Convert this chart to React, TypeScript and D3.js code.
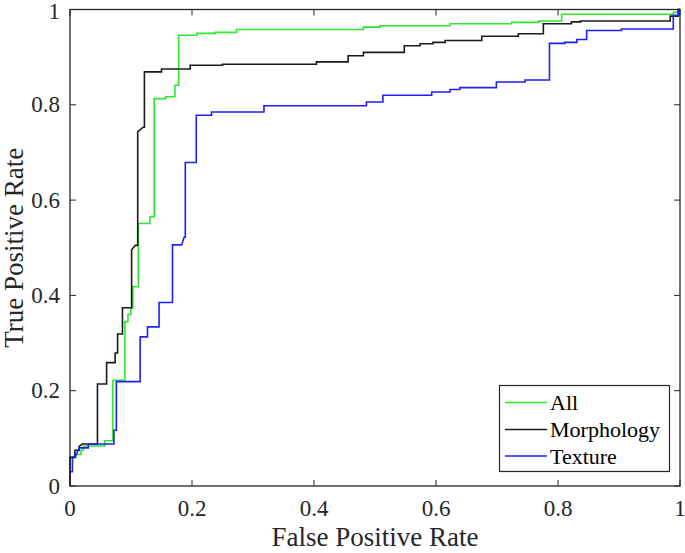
import React from "react";
import * as d3 from "d3";

const xTicks = [0, 0.2, 0.4, 0.6, 0.8, 1];
const yTicks = [0, 0.2, 0.4, 0.6, 0.8, 1];
const xTickLabels = ["0", "0.2", "0.4", "0.6", "0.8", "1"];
const yTickLabels = ["0", "0.2", "0.4", "0.6", "0.8", "1"];
const seriesNames = ["All", "Morphology", "Texture"];
const seriesColors = ["#2ee82e", "#1a1a1a", "#1f1fff"];

// ROC staircase vertices: [FPR, TPR]
const allCurve: [number, number][] = [
  [0, 0], [0, 0.06], [0.01, 0.06], [0.01, 0.066], [0.018, 0.066], [0.018, 0.075],
  [0.022, 0.075], [0.022, 0.084], [0.057, 0.084], [0.057, 0.095], [0.07, 0.095],
  [0.07, 0.222], [0.09, 0.222], [0.09, 0.345], [0.095, 0.345], [0.095, 0.36],
  [0.1, 0.36], [0.1, 0.373], [0.103, 0.373], [0.103, 0.418], [0.112, 0.418],
  [0.112, 0.551], [0.131, 0.551], [0.131, 0.565], [0.138, 0.565], [0.138, 0.813],
  [0.157, 0.813], [0.157, 0.817], [0.172, 0.817], [0.172, 0.841], [0.178, 0.841],
  [0.178, 0.946], [0.208, 0.946], [0.208, 0.95], [0.238, 0.95], [0.238, 0.952],
  [0.273, 0.952], [0.273, 0.958], [0.481, 0.958], [0.481, 0.963], [0.508, 0.963],
  [0.508, 0.966], [0.623, 0.966], [0.623, 0.97], [0.724, 0.97], [0.724, 0.973],
  [0.768, 0.973], [0.768, 0.976], [0.806, 0.976], [0.806, 0.99], [0.989, 0.99],
  [0.989, 0.994], [0.997, 0.994], [0.997, 1], [1, 1],
];

const morphologyCurve: [number, number][] = [
  [0, 0], [0, 0.06], [0.008, 0.06], [0.008, 0.075], [0.015, 0.075], [0.015, 0.083],
  [0.02, 0.088], [0.045, 0.088], [0.045, 0.214], [0.06, 0.214], [0.06, 0.259],
  [0.074, 0.259], [0.074, 0.279], [0.078, 0.279], [0.078, 0.319], [0.086, 0.319],
  [0.086, 0.374], [0.101, 0.374], [0.101, 0.495], [0.107, 0.505], [0.111, 0.505],
  [0.111, 0.743], [0.12, 0.753], [0.122, 0.753], [0.122, 0.869], [0.15, 0.869],
  [0.15, 0.875], [0.197, 0.875], [0.197, 0.883], [0.25, 0.883], [0.25, 0.885],
  [0.404, 0.885], [0.404, 0.89], [0.456, 0.89], [0.456, 0.903], [0.481, 0.903],
  [0.481, 0.91], [0.548, 0.91], [0.548, 0.924], [0.574, 0.924], [0.574, 0.928],
  [0.595, 0.928], [0.595, 0.931], [0.615, 0.931], [0.615, 0.935], [0.675, 0.935],
  [0.675, 0.944], [0.735, 0.944], [0.735, 0.949], [0.776, 0.949], [0.776, 0.97],
  [0.822, 0.97], [0.822, 0.974], [0.837, 0.974], [0.837, 0.976], [0.984, 0.976],
  [0.984, 0.986], [0.997, 0.986], [0.997, 1], [1, 1],
];

const textureCurve: [number, number][] = [
  [0, 0], [0, 0.03], [0.004, 0.03], [0.004, 0.06], [0.01, 0.065], [0.015, 0.08],
  [0.03, 0.08], [0.03, 0.088], [0.072, 0.088], [0.072, 0.117], [0.076, 0.117],
  [0.076, 0.219], [0.115, 0.219], [0.115, 0.313], [0.127, 0.313], [0.127, 0.334],
  [0.146, 0.334], [0.146, 0.385], [0.168, 0.385], [0.168, 0.506], [0.183, 0.506],
  [0.187, 0.522], [0.189, 0.522], [0.189, 0.679], [0.207, 0.679], [0.207, 0.778],
  [0.232, 0.778], [0.232, 0.785], [0.318, 0.785], [0.318, 0.798], [0.486, 0.798],
  [0.486, 0.806], [0.513, 0.806], [0.513, 0.82], [0.593, 0.82], [0.593, 0.827],
  [0.623, 0.827], [0.623, 0.832], [0.639, 0.832], [0.639, 0.836], [0.699, 0.836],
  [0.699, 0.848], [0.746, 0.848], [0.746, 0.852], [0.786, 0.852], [0.786, 0.929],
  [0.811, 0.929], [0.811, 0.931], [0.831, 0.931], [0.831, 0.937], [0.847, 0.937],
  [0.847, 0.956], [0.904, 0.956], [0.904, 0.959], [0.989, 0.959], [0.989, 0.988],
  [0.998, 0.988], [0.998, 1], [1, 1],
];

const curves = [allCurve, morphologyCurve, textureCurve];

const W = 685;
const H = 553;
const L = 70, R = 680, T = 9.5, B = 486;
const FONT = "'Liberation Serif', 'Times New Roman', serif";
const AX = "#262626";

export default function App() {
  const x = d3.scaleLinear().domain([0, 1]).range([L, R]);
  const y = d3.scaleLinear().domain([0, 1]).range([B, T]);
  const line = d3
    .line<[number, number]>()
    .x((d) => x(d[0]))
    .y((d) => y(d[1]));
  const tickLen = 6;
  const legX = 499.5, legY = 385.5, legW = 170, legH = 86;
  const rowY = [402.5, 429.5, 456];

  return (
    <svg
      width={W}
      height={H}
      style={{ position: "absolute", left: 0, top: 0, background: "#fff" }}
      fontFamily={FONT}
    >
      <rect x={0} y={0} width={W} height={H} fill="#fff" />
      <defs>
        <clipPath id="plotclip">
          <rect x={L - 2} y={T - 2} width={R - L + 4} height={B - T + 4} />
        </clipPath>
      </defs>
      {xTicks.map((t, i) => (
        <g key={"xt" + i}>
          <line x1={x(t)} x2={x(t)} y1={B} y2={B - tickLen} stroke={AX} strokeWidth={1} />
          <line x1={x(t)} x2={x(t)} y1={T} y2={T + tickLen} stroke={AX} strokeWidth={1} />
          <text x={x(t)} y={516} fontSize={23} textAnchor="middle" fill={AX}>
            {xTickLabels[i]}
          </text>
        </g>
      ))}
      {yTicks.map((t, i) => (
        <g key={"yt" + i}>
          <line x1={L} x2={L + tickLen} y1={y(t)} y2={y(t)} stroke={AX} strokeWidth={1} />
          <line x1={R} x2={R - tickLen} y1={y(t)} y2={y(t)} stroke={AX} strokeWidth={1} />
          <text
            x={60}
            y={Math.max(y(t), 11)}
            fontSize={23}
            textAnchor="end"
            dominantBaseline="central"
            fill={AX}
          >
            {yTickLabels[i]}
          </text>
        </g>
      ))}
      <g clipPath="url(#plotclip)">
        {curves.map((c, i) => (
          <path
            key={"c" + i}
            d={line(c) || ""}
            fill="none"
            stroke={seriesColors[i]}
            strokeWidth={1.6}
            strokeLinejoin="miter"
          />
        ))}
      </g>
      <rect x={L} y={T} width={R - L} height={B - T} fill="none" stroke={AX} strokeWidth={1.3} />
      <text x={(L + R) / 2} y={546} fontSize={27} textAnchor="middle" fill={AX}>
        False Positive Rate
      </text>
      <text
        transform={`translate(22.5, ${(T + B) / 2}) rotate(-90)`}
        fontSize={27}
        textAnchor="middle"
        fill={AX}
      >
        True Positive Rate
      </text>
      <rect x={legX} y={legY} width={legW} height={legH} fill="#fff" stroke={AX} strokeWidth={1.2} />
      {seriesNames.map((n, i) => (
        <g key={"lg" + i}>
          <line x1={505} x2={547} y1={rowY[i]} y2={rowY[i]} stroke={seriesColors[i]} strokeWidth={1.6} />
          <text x={550} y={rowY[i]} fontSize={22} dominantBaseline="central" fill="#000">
            {n}
          </text>
        </g>
      ))}
    </svg>
  );
}
